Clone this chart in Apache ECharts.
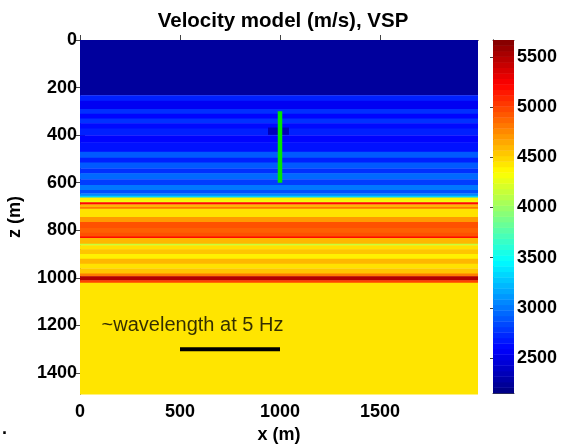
<!DOCTYPE html>
<html><head><meta charset="utf-8">
<script src="https://cdn.jsdelivr.net/npm/echarts@6/dist/echarts.min.js"></script>
<style>html,body{margin:0;padding:0;background:#fff}#c{width:566px;height:445px}</style>
</head><body><div id="c"></div>
<script>
// ---- data ----
const xRange = [0, 1990];
const zRange = [0, 1488];
const layerTops = [0, 232, 255, 290, 310, 330, 350, 372, 400, 430, 470, 495, 515, 540, 560, 585, 610, 630, 645, 655, 662, 675, 682, 691, 702, 709, 744, 765, 790, 810, 826, 832, 856, 863, 880, 900, 920, 940, 960, 982, 993, 1010, 1020];
const layerVel  = [2250, 2700, 2550, 2750, 2600, 2760, 2620, 2700, 2600, 2650, 2900, 2700, 2900, 2750, 2950, 2800, 3000, 2850, 3050, 3300, 4400, 4300, 5200, 4600, 4800, 4450, 4700, 4950, 4900, 4950, 5200, 4600, 4150, 4450, 4550, 4400, 4600, 4450, 4550, 4800, 5500, 5000, 4440];
const anomalyX = [940, 1045];
const anomalyZ = [368, 397];
const anomalyVel = 2350;
const wellX = [1000, 1000];
const wellZ = [300, 600];
const barX = [500, 1000];
const barZ = [1300, 1300];
const noteX = 108, noteZ = 1198;
const noteText = '~wavelength at 5 Hz';
const xTicks = [0, 500, 1000, 1500];
const zTicks = [0, 200, 400, 600, 800, 1000, 1200, 1400];
const cbRange = [2150, 5670];
const cbTicks = [2500, 3000, 3500, 4000, 4500, 5000, 5500];
const cbLevels = 64;
const jet = ['#000080','#0000ff','#0080ff','#00ffff','#80ff80','#ffff00','#ff8000','#ff0000','#800000'];

// ---- build cells ----
const cells = layerTops.map((t, i) => {
  const b = i < layerTops.length - 1 ? layerTops[i + 1] : zRange[1];
  return [xRange[0], xRange[1], t, b, layerVel[i]];
});
cells.push([anomalyX[0], anomalyX[1], anomalyZ[0], anomalyZ[1], anomalyVel]);
const cbCells = [];
const step = (cbRange[1] - cbRange[0]) / cbLevels;
for (let i = 0; i < cbLevels; i++) {
  const v0 = cbRange[0] + i * step, v1 = v0 + step;
  cbCells.push([0, 1, v0, v1, (v0 + v1) / 2]);
}

const FONT = "'Liberation Sans', Arial, Helvetica, sans-serif";
const lab = {fontFamily: FONT, fontSize: 18, fontWeight: 'bold', color: '#000'};
const plain = v => String(v);
const frame = {show: true, lineStyle: {color: '#444', width: 1}};

function rectItem(params, api) {
  const p0 = api.coord([api.value(0), api.value(2)]);
  const p1 = api.coord([api.value(1), api.value(3)]);
  return {
    type: 'rect',
    shape: {x: Math.min(p0[0], p1[0]), y: Math.min(p0[1], p1[1]),
            width: Math.abs(p1[0] - p0[0]), height: Math.abs(p1[1] - p0[1]) + 0.4},
    style: {fill: api.visual('color')}
  };
}

const chart = echarts.init(document.getElementById('c'), null, {renderer: 'canvas'});
chart.setOption({
  animation: false,
  backgroundColor: '#fff',
  title: {text: 'Velocity model (m/s), VSP', left: 'center', top: 6,
          textStyle: {fontFamily: FONT, fontSize: 20.5, fontWeight: 'bold', color: '#000'}},
  grid: [
    {left: 80, top: 40, width: 398, height: 354, show: false, containLabel: false, outerBoundsMode: 'none'},
    {left: 493, top: 40, width: 21, height: 353, show: false, containLabel: false, outerBoundsMode: 'none'}
  ],
  visualMap: {type: 'continuous', show: false, min: cbRange[0], max: cbRange[1],
              dimension: 4, seriesIndex: [0, 1], inRange: {color: jet}},
  xAxis: [
    {type: 'value', gridIndex: 0, position: 'bottom', min: xRange[0], max: xRange[1],
     axisLine: frame, splitLine: {show: false},
     axisTick: {inside: true, length: 5, customValues: xTicks, lineStyle: {color: '#444'}},
     axisLabel: Object.assign({customValues: xTicks, margin: 9, formatter: plain}, lab),
     name: 'x (m)', nameLocation: 'middle', nameGap: 23, nameTextStyle: lab},
    {type: 'value', gridIndex: 0, position: 'top', min: xRange[0], max: xRange[1],
     axisLine: frame, splitLine: {show: false},
     axisTick: {inside: true, length: 5, customValues: xTicks, lineStyle: {color: '#444'}},
     axisLabel: {show: false}},
    {type: 'value', gridIndex: 1, position: 'bottom', min: 0, max: 1,
     axisLine: frame, splitLine: {show: false}, axisTick: {show: false}, axisLabel: {show: false}},
    {type: 'value', gridIndex: 1, position: 'top', min: 0, max: 1,
     axisLine: frame, splitLine: {show: false}, axisTick: {show: false}, axisLabel: {show: false}}
  ],
  yAxis: [
    {type: 'value', gridIndex: 0, position: 'left', inverse: true, min: zRange[0], max: zRange[1],
     axisLine: frame, splitLine: {show: false},
     axisTick: {inside: true, length: 5, customValues: zTicks, lineStyle: {color: '#444'}},
     axisLabel: Object.assign({customValues: zTicks, margin: 3, formatter: plain}, lab),
     name: 'z (m)', nameLocation: 'middle', nameGap: 56, nameRotate: 90, nameTextStyle: lab},
    {type: 'value', gridIndex: 0, position: 'right', inverse: true, min: zRange[0], max: zRange[1],
     axisLine: frame, splitLine: {show: false},
     axisTick: {inside: true, length: 5, customValues: zTicks, lineStyle: {color: '#444'}},
     axisLabel: {show: false}},
    {type: 'value', gridIndex: 1, position: 'right', min: cbRange[0], max: cbRange[1],
     axisLine: frame, splitLine: {show: false},
     axisTick: {inside: true, length: 3, customValues: cbTicks, lineStyle: {color: '#444'}},
     axisLabel: Object.assign({customValues: cbTicks, margin: 3, formatter: plain}, lab)},
    {type: 'value', gridIndex: 1, position: 'left', min: cbRange[0], max: cbRange[1],
     axisLine: frame, splitLine: {show: false},
     axisTick: {inside: true, length: 3, customValues: cbTicks, lineStyle: {color: '#444'}},
     axisLabel: {show: false}}
  ],
  series: [
    {type: 'custom', xAxisIndex: 0, yAxisIndex: 0, renderItem: rectItem,
     encode: {x: [0, 1], y: [2, 3]}, data: cells, z: 1, silent: true},
    {type: 'custom', xAxisIndex: 2, yAxisIndex: 2, renderItem: rectItem,
     encode: {x: [0, 1], y: [2, 3]}, data: cbCells, z: 1, silent: true},
    {type: 'line', xAxisIndex: 0, yAxisIndex: 0, symbol: 'none', z: 5,
     lineStyle: {color: '#00e600', width: 4.5, cap: 'butt'},
     data: wellX.map((x, i) => [x, wellZ[i]])},
    {type: 'line', xAxisIndex: 0, yAxisIndex: 0, symbol: 'none', z: 5,
     lineStyle: {color: '#000', width: 4, cap: 'butt'},
     data: barX.map((x, i) => [x, barZ[i]])},
    {type: 'scatter', xAxisIndex: 0, yAxisIndex: 0, symbolSize: 0, z: 6,
     data: [[noteX, noteZ]],
     label: {show: true, position: 'right', distance: 0, formatter: noteText,
             fontFamily: FONT, fontSize: 20, color: '#000'}}
  ],
  graphic: [{type: 'text', left: 2, top: 420, style: {text: '.', font: 'bold 18px ' + FONT, fill: '#000'}}]
});
</script></body></html>
